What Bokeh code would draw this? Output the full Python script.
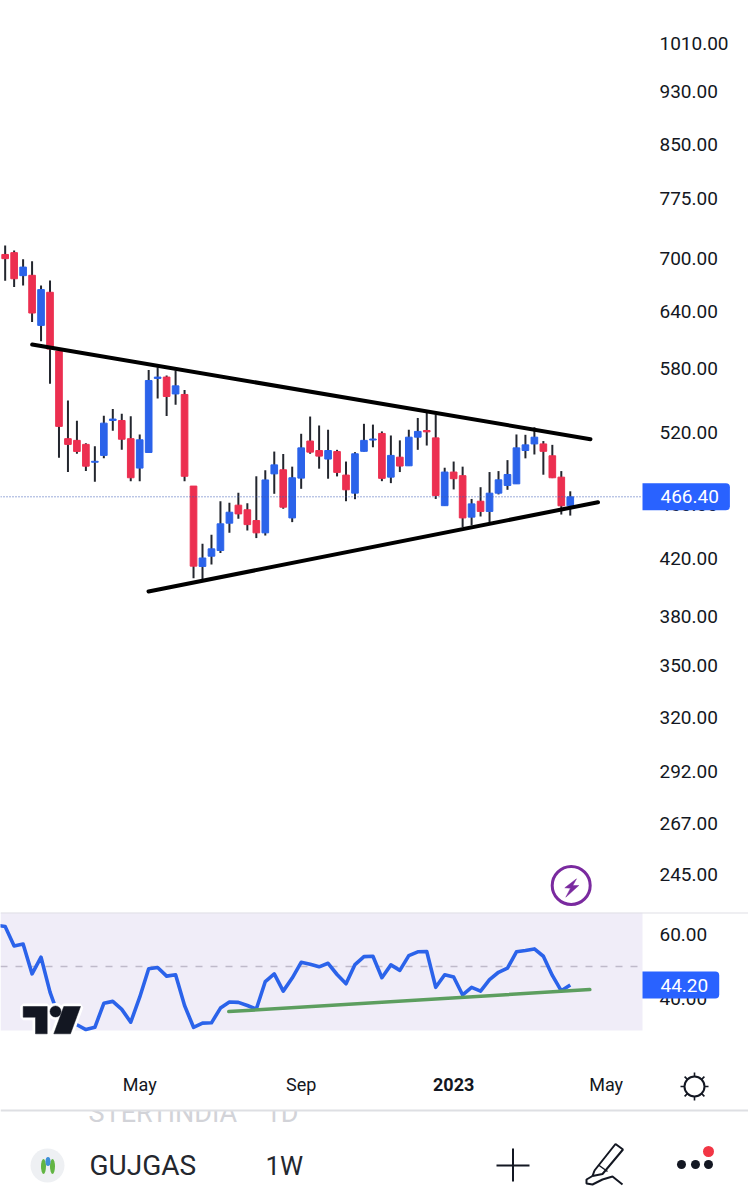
import math
from bokeh.embed import file_html
from bokeh.resources import INLINE
from bokeh.layouts import column
from bokeh.plotting import figure
from bokeh.models import (ColumnDataSource, Range1d, LinearScale, FixedTicker, PrintfTickFormatter,
                          Label, LinearAxis)
from bokeh.core.properties import value

opens = [705, 707.2, 680, 680.4, 624.7, 661, 598, 515, 513.5, 510, 494.7, 500.5, 531.2, 531.2, 515, 489.8,
         503, 570.7, 572, 555.8, 555.3, 475, 414.2, 421.5, 425.6, 445.9, 459.8, 456.2, 447.9, 438.6, 485, 488.4,
         449.9, 481.5, 512.9, 504.7, 497.4, 503.8, 484, 469.3, 504, 513.8, 519.6, 482.3, 499, 491.7, 516.3, 522.2,
         515.7, 459.4, 486.5, 483.5, 450.5, 462.9, 454.9, 469.3, 475.5, 476.8, 504.7, 510.4, 510.4, 500.2, 482.3, 459.3]
closes = [700, 676.4, 690, 638, 664, 600, 525.9, 510, 503.9, 491.4, 495.5, 528.8, 532.5, 514.5, 481.8, 514,
          568.7, 572, 553.4, 563.5, 483, 414.4, 420.2, 426.8, 445.4, 454.3, 453, 444.8, 438.6, 480, 492.5, 458.2,
          481.8, 507, 503.3, 499.9, 504.7, 486.2, 472, 501.9, 513.5, 514.7, 481.3, 500.5, 491.5, 516.3, 521.4, 521,
          467.4, 486.5, 481, 449.9, 460.8, 454.9, 469.3, 480.1, 484.5, 507, 509.6, 516.3, 504, 481.8, 459.3, 466.4]
highs = [716, 709.8, 699.2, 697, 668.8, 674.5, 598.5, 549.6, 531, 511, 508.3, 535.5, 541.6, 537.3, 535, 518.7,
         579, 581.8, 573.6, 578.5, 559.6, 475, 430.5, 437.1, 462.9, 461.6, 469.6, 461.3, 483, 488, 503.8, 501.7,
         491, 519.3, 534.8, 526.7, 522.9, 505.3, 495.3, 503.3, 528.2, 527.5, 521.4, 517.8, 513.5, 522.9, 533.5, 538.7,
         536.7, 490.1, 495.3, 491, 464.7, 474.1, 486.5, 487.3, 496.5, 518.7, 518.4, 525.1, 512.9, 509.6, 487.3, 470.8]
lows = [674, 667, 668.8, 628.3, 608, 565.5, 498.5, 486.5, 501.9, 487.3, 478.5, 498, 522, 505.3, 479, 479,
        503, 551.5, 535.2, 545.6, 479, 406, 404.4, 415.6, 423.7, 438.6, 449.2, 440.4, 434.7, 436.6, 468.8, 457,
        446.7, 472.8, 501.9, 489.3, 481, 482.9, 462.9, 464.5, 503.8, 507.5, 479, 477.4, 486.5, 491.7, 505.3, 509,
        464.7, 459.4, 472.3, 442.9, 444.2, 451, 446.7, 468.3, 472, 476.8, 498, 501.3, 484.3, 481.5, 452.5, 451.7]
# RSI, first point is the week just left of the visible candles
rsi = [62.9, 62.5, 56.4, 57.0, 47.7, 52.9, 42.0, 34.2, 32.1, 31.8, 30.3, 31.0, 38.5, 39.1, 36.6, 32.6, 40.4,
       49.3, 49.7, 47.0, 47.4, 37.8, 31.0, 32.3, 32.4, 37.0, 38.9, 38.8, 37.8, 36.7, 45.3, 47.7, 42.3, 46.4,
       51.3, 50.7, 49.9, 51.0, 47.5, 44.6, 50.6, 53.1, 53.2, 46.5, 50.5, 48.8, 53.4, 54.6, 54.7, 43.5, 47.4,
       46.7, 41.1, 43.5, 42.3, 45.9, 48.2, 49.5, 54.6, 55.0, 55.5, 53.2, 47.2, 42.4, 44.2]

price_ticks = [1010, 930, 850, 775, 700, 640, 580, 520, 460, 420, 380, 350, 320, 292, 267, 245]
rsi_ticks = [60, 40]
time_ticks = {15: "May", 33: "Sep", 67: "May"}
year_ticks = {50: "2023"}
last_price = 466.40
last_rsi = 44.20
upper_trend_x, upper_trend_y = [3.01, 65.25], [604.7, 514.5]
lower_trend_x, lower_trend_y = [15.98, 66.09], [396.9, 462.1]
rsi_trend_x, rsi_trend_y = [24.93, 65.18], [35.9, 42.8]

RED, BLUE, INK = "#ec2f50", "#2b63ea", "#131722"
FONT = "Roboto"
XMIN, XMAX, AXIS_X = -0.52, 82.87, 71.05
x_range = Range1d(XMIN, XMAX)


def style_value_axis(ax, ticks):
    ax.fixed_location = AXIS_X
    ax.ticker = FixedTicker(ticks=ticks)
    ax.formatter = PrintfTickFormatter(format="%.2f")
    ax.axis_line_color = None
    ax.major_tick_line_color = None
    ax.minor_tick_line_color = None
    ax.major_label_standoff = 11
    ax.major_label_text_font = FONT
    ax.major_label_text_font_size = "19px"
    ax.major_label_text_color = INK


def badge(p, y, text):
    p.add_layout(Label(x=642, y=y, x_range_name="px", text=text, text_font=FONT, text_font_size="19px",
                       text_color="#ffffff", text_baseline="middle", background_fill_color="#2962ff",
                       padding=(18, 11, 7, 7), border_radius=(0, 4, 4, 0)))


# ---------- price ----------
price = figure(width=748, height=912, x_range=x_range, y_range=Range1d(229.6, 1087), y_axis_type="log",
               y_axis_location="right", x_axis_location=None, output_backend="svg", toolbar_location=None,
               min_border=0, outline_line_color=None)
price.grid.visible = False
price.extra_x_ranges = {"px": Range1d(0, 748)}
price.extra_y_ranges = {"py": Range1d(912, 0)}
price.extra_y_scales = {"py": LinearScale()}

idx = list(range(len(opens)))
src = ColumnDataSource(dict(
    x=idx, o=opens, c=closes, h=highs, l=lows,
    top=[max(a, b) for a, b in zip(opens, closes)],
    bottom=[min(a, b) for a, b in zip(opens, closes)],
    color=[BLUE if c > o else RED for o, c in zip(opens, closes)],
))
price.segment("x", "l", "x", "h", source=src, line_color="#23262e", line_width=2)
price.vbar("x", 0.74, "top", "bottom", source=src, fill_color="color", line_color="color", line_width=1)
price.line([XMIN, AXIS_X], [last_price, last_price], line_color="#3b5bb5", line_width=1, line_dash="1 2")
price.line(upper_trend_x, upper_trend_y, line_color="#000000", line_width=4, line_cap="round")
price.line(lower_trend_x, lower_trend_y, line_color="#000000", line_width=4, line_cap="round")

style_value_axis(price.yaxis[0], price_ticks)
badge(price, last_price, f"{last_price:.2f}")

# lightning badge
price.scatter([570.7], [885], x_range_name="px", y_range_name="py", size=38, marker="circle",
              fill_color=None, line_color="#7a2a9f", line_width=3)
price.patch([576, 564.3, 570, 565.3, 578.3, 572.3], [878.3, 887.3, 887.7, 896.7, 885, 885],
            x_range_name="px", y_range_name="py", fill_color="#7a2a9f", line_color="#7a2a9f", line_width=0.5)

# ---------- RSI ----------
rsi_p = figure(width=748, height=128, x_range=x_range,
               y_range=Range1d(50 - (1040 - 966) / 3.2, 50 + (966 - 912) / 3.2),
               y_axis_location="right", x_axis_location=None, output_backend="svg", toolbar_location=None,
               min_border=0, outline_line_color=None)
rsi_p.grid.visible = False
rsi_p.extra_x_ranges = {"px": Range1d(0, 748)}
rsi_p.extra_y_ranges = {"py": Range1d(1040, 912)}

rsi_p.quad(left=[0], right=[642], top=[912], bottom=[1030], x_range_name="px", y_range_name="py",
           fill_color="#f0edf8", line_color=None)
rsi_p.line([0, 748], [912, 912], x_range_name="px", y_range_name="py", line_color="#e0e0e6", line_width=2)
rsi_p.line([XMIN, AXIS_X], [50, 50], line_color="#bfbaca", line_width=1.5, line_dash="7 8")
rsi_p.line(list(range(-1, 64)), rsi, line_color="#2b63ea", line_width=3.6, line_join="round")
rsi_p.line(rsi_trend_x, rsi_trend_y, line_color="#5c9e5f", line_width=3.5, line_cap="round")

style_value_axis(rsi_p.yaxis[0], rsi_ticks)
badge(rsi_p, last_rsi, f"{last_rsi:.2f}")

# TradingView mark
t_x, t_y = [22.7, 46.7, 46.7, 35, 35, 22.7], [1006, 1006, 1033.3, 1033.3, 1016.7, 1016.7]
s_x, s_y = [63.3, 80, 70, 53.3], [1006, 1006, 1033.3, 1033.3]
for lc, lw in (("#ffffff", 6), (INK, 0.5)):
    rsi_p.patch(t_x, t_y, x_range_name="px", y_range_name="py", fill_color=INK, line_color=lc, line_width=lw)
    rsi_p.patch(s_x, s_y, x_range_name="px", y_range_name="py", fill_color=INK, line_color=lc, line_width=lw)
    rsi_p.scatter([55], [1011], x_range_name="px", y_range_name="py", marker="circle", size=11,
                  fill_color=INK, line_color=lc, line_width=lw)

# ---------- time axis and footer ----------
foot = figure(width=748, height=160, x_range=x_range, y_range=Range1d(1200, 1040), x_axis_location=None,
              y_axis_location=None, output_backend="svg", toolbar_location=None, min_border=0,
              outline_line_color=None)
foot.grid.visible = False
foot.extra_x_ranges = {"px": Range1d(0, 748)}
PX = dict(x_range_name="px")

foot.text([88], [1112.4], text=["STERTINDIA"], text_font=value(FONT), text_font_size="27px", text_color="#d2d3d8",
          text_baseline="middle", **PX)
foot.text([265], [1112.4], text=["1D"], text_font=value(FONT), text_font_size="27px", text_color="#d2d3d8",
          text_baseline="middle", **PX)
foot.quad(left=[0], right=[748], top=[1040], bottom=[1110], fill_color="#ffffff", line_color=None, **PX)
foot.line([0, 748], [1110, 1110], line_color="#dedfe3", line_width=2, **PX)


def time_axis(labels, style, location):
    axis = LinearAxis(ticker=FixedTicker(ticks=list(labels)), major_label_overrides=labels)
    axis.fixed_location = location
    axis.axis_line_color = None
    axis.major_tick_line_color = None
    axis.minor_tick_line_color = None
    axis.major_label_standoff = 1
    axis.major_label_text_font = FONT
    axis.major_label_text_font_size = "18px"
    axis.major_label_text_font_style = style
    axis.major_label_text_color = INK
    foot.add_layout(axis, "below")


time_axis(time_ticks, "normal", 1066)
time_axis(year_ticks, "bold", 1070)

# sun
foot.scatter([694], [1086], marker="circle", size=20, fill_color=None, line_color=INK, line_width=2, **PX)
for a in range(0, 360, 45):
    ca, sa = math.cos(math.radians(a)), math.sin(math.radians(a))
    foot.line([694 + 10 * ca, 694 + 14 * ca], [1086 + 10 * sa, 1086 + 14 * sa], line_color=INK, line_width=1.6, **PX)

# symbol logo
foot.scatter([47], [1165], marker="circle", size=34, fill_color="#eef0f3", line_color=None, **PX)
foot.ellipse([43, 52], [1166, 1166], width=5, height=15, angle=[0, 0], fill_color="#62b544", line_color=None, **PX)
foot.ellipse([47.5], [1161], width=5, height=9, fill_color="#3f8fd8", line_color=None, **PX)

foot.text([89], [1165], text=["GUJGAS"], text_font=value(FONT), text_font_size="28px", text_color="#24272e",
          text_baseline="middle", **PX)
foot.text([265], [1165], text=["1W"], text_font=value(FONT), text_font_size="26px", text_color="#24272e",
          text_baseline="middle", **PX)

# plus, pen, menu
foot.line([496, 529], [1165, 1165], line_color=INK, line_width=2, **PX)
foot.line([512.5, 512.5], [1148, 1181], line_color=INK, line_width=2, **PX)
foot.line([594, 615, 622.5, 602, 592, 594], [1170, 1143.5, 1149, 1173.5, 1175.5, 1170], line_color=INK, line_width=2, **PX)
foot.line([598, 607], [1164.5, 1171], line_color=INK, line_width=1.5, **PX)
foot.line([592, 586, 586, 592, 602, 612, 622], [1175.5, 1179, 1183, 1184, 1179, 1176, 1184], line_color=INK, line_width=2, **PX)
foot.scatter([681, 695, 708], [1164, 1164, 1164], marker="circle", size=9, fill_color=INK, line_color=None, **PX)
foot.scatter([708], [1151], marker="circle", size=11, fill_color="#f23645", line_color=None, **PX)

page = column(price, rsi_p, foot, spacing=0, styles={"position": "absolute", "left": "0", "top": "0"})
open("out.html", "w").write(file_html(page, INLINE))
